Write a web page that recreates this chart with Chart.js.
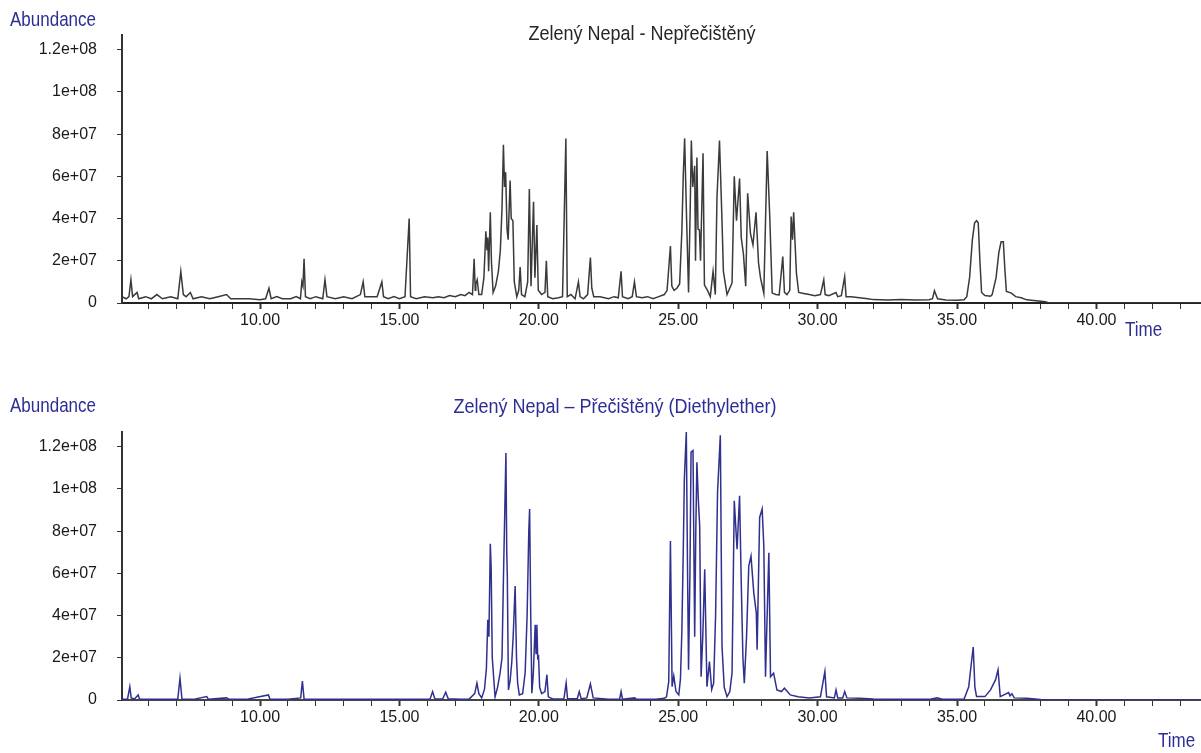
<!DOCTYPE html>
<html lang="cs">
<head>
  <meta charset="UTF-8" />
  <title>Zelený Nepal - chromatogramy</title>
  <script src="https://cdn.jsdelivr.net/npm/chart.js"></script>
  <style>
    body {
      margin: 0;
      background: #fff;
      font-family: 'Liberation Sans', Arial, sans-serif;
      width: 1201px;
      height: 753px;
      overflow: hidden;
      position: relative;
    }
    canvas { position: absolute; left: 0; }
    #topChart { top: 0; }
    #bottomChart { top: 376px; }
    .lbl {
      position: absolute;
      font-size: 17px;
      line-height: 20px;
      white-space: nowrap;
      color: #2d2d96;
      transform: scaleY(1.15);
    }
    .ttl {
      position: absolute;
      font-size: 18px;
      line-height: 20px;
      white-space: nowrap;
      transform: translateX(-50%) scaleY(1.15);
    }
  </style>
</head>
<body>
  <canvas id="topChart" width="1201" height="376"></canvas>
  <canvas id="bottomChart" width="1201" height="377"></canvas>

  <div class="lbl" style="left:10px; top:10px;">Abundance</div>
  <div class="ttl" style="left:642px; top:23px; color:#262626;">Zelený Nepal - Nepřečištěný</div>
  <div class="lbl" style="left:1125px; top:320px;">Time</div>

  <div class="lbl" style="left:10px; top:396px;">Abundance</div>
  <div class="ttl" style="left:615px; top:396px; color:#2d2d96;">Zelený Nepal – Přečištěný (Diethylether)</div>
  <div class="lbl" style="left:1158px; top:731px;">Time</div>

  <script>
    // retention time range (min) and abundance axis
    const timeMin = 5.05;
    const timeMax = 43.75;
    const abundMax = 1.27e8;
    const xMajorTicks = [10, 15, 20, 25, 30, 35, 40];
    const xTickLabels = ['10.00', '15.00', '20.00', '25.00', '30.00', '35.00', '40.00'];
    const yTickValues = [0, 2e7, 4e7, 6e7, 8e7, 1e8, 1.2e8];
    const yTickLabels = ['0', '2e+07', '4e+07', '6e+07', '8e+07', '1e+08', '1.2e+08'];

    // [time (min), abundance x 1e6] - neprecisteny
    const topTrace = [
      [5.05,3],[5.2,2],[5.3,3],[5.37,11],[5.43,3],[5.59,5],[5.65,2],[5.9,3],[6.1,2],[6.3,4],[6.5,2],[6.8,3],
      [7.05,2],[7.16,15],[7.25,4],[7.35,3],[7.5,5],[7.6,2],[7.9,3],[8.2,2],[8.5,3],[8.8,4],[8.95,2],[9.2,2],
      [9.6,2],[10.0,1.5],[10.2,2],[10.32,7],[10.4,2],[10.6,3],[10.8,2],[11.1,2],[11.3,3],[11.45,2],[11.5,10],
      [11.54,8],[11.58,21],[11.63,3],[11.8,2],[12.0,3],[12.25,2],[12.33,11],[12.4,3],[12.7,2],[13.0,3],[13.3,2],
      [13.6,4],[13.7,10],[13.76,3],[14.0,3],[14.2,3],[14.37,10],[14.43,3],[14.6,2],[14.8,3],[15.0,2],[15.2,3],
      [15.35,40],[15.4,3],[15.6,2],[15.9,3],[16.2,2.5],[16.4,3],[16.6,2.5],[16.8,3.5],[17.0,3],[17.2,4],[17.35,3.5],
      [17.5,5],[17.62,4],[17.68,21],[17.72,6],[17.74,9],[17.79,11],[17.85,4],[17.95,4],[18.03,12],[18.1,34],
      [18.14,25],[18.17,31],[18.2,15],[18.26,43],[18.3,20],[18.36,5],[18.45,8],[18.55,15],[18.62,25],[18.68,45],
      [18.73,75],[18.77,55],[18.81,62],[18.86,35],[18.9,30],[18.97,58],[19.01,40],[19.07,39],[19.12,10],[19.21,3],
      [19.28,6],[19.33,17],[19.38,4],[19.5,3],[19.6,10],[19.66,54],[19.72,8],[19.81,48],[19.86,12],[19.93,37],
      [19.98,6],[20.1,4],[20.22,5],[20.27,20],[20.32,3],[20.5,2],[20.7,2.5],[20.85,3],[20.97,78],[21.02,3],
      [21.15,4],[21.3,2],[21.42,10],[21.48,3],[21.6,2],[21.75,4],[21.85,21.5],[21.9,7],[21.97,3],[22.2,3],
      [22.5,2],[22.7,3],[22.85,2.5],[22.95,15],[23.0,3],[23.2,2],[23.35,3],[23.43,10],[23.5,3],[23.7,2.5],
      [23.9,3],[24.1,2],[24.3,3],[24.5,4],[24.6,6],[24.72,27],[24.77,8],[24.85,6],[24.95,7],[25.05,9],
      [25.13,34],[25.18,60],[25.23,78],[25.3,40],[25.37,5],[25.43,45],[25.47,77],[25.52,55],[25.59,65],
      [25.62,20],[25.67,69],[25.71,35],[25.76,34.6],[25.8,20],[25.89,71],[25.94,8.5],[26.05,6],[26.15,3],
      [26.25,15],[26.33,4],[26.39,50],[26.48,77],[26.57,39],[26.62,15],[26.75,4],[26.93,9.5],[27.01,60],
      [27.09,39],[27.2,59],[27.26,31],[27.34,23],[27.42,8],[27.49,52],[27.59,33],[27.68,27.5],[27.79,43],
      [27.88,19],[27.95,12],[28.07,4.6],[28.19,72],[28.28,42],[28.37,4.7],[28.5,4],[28.62,3.8],[28.75,22],
      [28.81,5],[28.9,4],[29.0,6],[29.05,41],[29.1,30],[29.14,43],[29.24,14],[29.32,5],[29.5,4.5],[29.7,4],
      [29.9,3.5],[30.1,4],[30.22,11],[30.27,4],[30.4,3.5],[30.66,5],[30.72,3],[30.85,3.5],[30.97,12.5],
      [31.02,3],[31.2,3],[31.5,2.5],[31.8,2],[32.0,1.6],[32.5,1.4],[33.0,1.6],[33.5,1.4],[34.0,1.5],[34.12,2],
      [34.19,5.8],[34.3,2],[34.6,1.4],[35.0,1.3],[35.25,1.5],[35.35,3],[35.45,12],[35.55,30],[35.63,38],
      [35.7,39],[35.76,38],[35.82,20],[35.88,5],[36.0,3.5],[36.2,3.2],[36.26,4],[36.4,12],[36.5,24],[36.58,29],
      [36.66,29],[36.72,15],[36.77,5.5],[36.95,4.7],[37.1,3],[37.3,2.5],[37.5,1.5],[38.17,0.6],[38.3,0],[43.75,0]
    ];

    // [time (min), abundance x 1e6] - precisteny (diethylether)
    const bottomTrace = [
      [5.05,0.3],[5.25,0.5],[5.33,6.3],[5.38,1],[5.5,0.5],[5.63,2.4],[5.68,0.4],[6.0,0.3],[6.5,0.3],[7.05,0.4],
      [7.13,10.3],[7.2,0.5],[7.6,0.3],[8.09,1.6],[8.15,0.3],[8.8,1],[8.9,0.3],[9.5,0.3],[10.3,2.4],[10.36,0.3],
      [11.0,0.3],[11.46,1],[11.52,9],[11.58,0.5],[12.5,0.3],[13.5,0.3],[14.5,0.3],[15.5,0.3],[16.1,0.5],
      [16.19,4],[16.27,0.6],[16.55,0.5],[16.66,3.7],[16.75,0.6],[17.2,0.3],[17.5,0.5],[17.7,3],[17.78,8],
      [17.85,3],[17.95,1],[18.05,5],[18.12,15],[18.17,38],[18.21,30],[18.26,74],[18.29,63],[18.33,20],
      [18.43,1.5],[18.52,6],[18.61,12.7],[18.68,20],[18.73,57],[18.78,90],[18.82,117],[18.85,70],[18.87,58.7],
      [18.91,4.8],[18.97,9],[19.03,18],[19.08,30],[19.15,54],[19.2,20],[19.24,8],[19.3,2.4],[19.42,3],
      [19.51,13],[19.58,40],[19.64,80],[19.67,90.5],[19.71,40],[19.75,3.2],[19.8,12],[19.87,35.7],[19.9,22],
      [19.93,35.7],[19.96,20],[19.99,20.6],[20.03,6],[20.1,3],[20.22,4],[20.29,12],[20.34,1.5],[20.5,0.5],
      [20.9,0.6],[20.98,8],[21.03,0.6],[21.38,0.6],[21.45,4],[21.52,0.6],[21.72,1],[21.85,7.6],[21.95,1],
      [22.5,0.3],[22.9,0.5],[22.95,4],[23.0,0.4],[23.44,1],[23.5,0.3],[24.2,0.3],[24.5,0.8],[24.58,1.5],
      [24.66,8.7],[24.72,75.4],[24.78,6.3],[24.84,11.4],[24.92,4],[25.02,2.4],[25.08,10],[25.13,32.5],
      [25.18,70],[25.22,105],[25.29,127],[25.33,66.7],[25.37,14.3],[25.42,60],[25.46,117.5],[25.53,118.2],
      [25.59,30],[25.63,80],[25.67,112.7],[25.72,95],[25.77,82.5],[25.82,11],[25.88,30],[25.95,61.9],
      [26.03,6.3],[26.12,18.2],[26.2,5],[26.27,8],[26.34,40],[26.41,98.4],[26.51,125.4],[26.57,25.4],
      [26.65,6],[26.75,1.6],[26.85,4],[26.93,12.7],[27.01,94.4],[27.11,71.4],[27.2,96.8],[27.26,55.6],
      [27.32,20],[27.37,8],[27.45,30],[27.53,63.5],[27.61,68.2],[27.71,50.8],[27.8,41.3],[27.83,23.8],
      [27.92,86.5],[28.01,90.5],[28.07,73],[28.13,11],[28.25,69.8],[28.31,11],[28.42,12.7],[28.54,4.8],
      [28.7,4],[28.81,5.6],[29.02,2.4],[29.3,1.5],[29.7,1],[30.1,1.5],[30.26,13.5],[30.32,1.5],[30.6,1],
      [30.66,4.8],[30.72,1],[30.9,1],[30.97,4],[31.05,1],[31.5,0.8],[32.0,0.5],[33.0,0.4],[34.0,0.3],
      [34.29,1],[34.5,0.3],[35.25,0.3],[35.42,6.3],[35.5,16],[35.58,25.1],[35.64,6],[35.7,1.6],[36.0,1.6],
      [36.2,4.8],[36.38,9.5],[36.47,14.3],[36.55,1.6],[36.85,3.5],[36.9,2],[36.97,3],[37.05,1],[37.5,0.8],
      [38.0,0.2],[38.3,0],[43.75,0]
    ];

    const tickFont = { family: "'Liberation Sans', Arial, sans-serif", size: 16 };

    function makeChart(canvasId, trace, lineColor, topPad, xHeight, axisColor) {
      return new Chart(document.getElementById(canvasId), {
        type: 'line',
        data: {
          datasets: [{
            data: trace.map(p => ({ x: p[0], y: p[1] * 1e6 })),
            borderColor: lineColor,
            borderWidth: 1.5,
            pointRadius: 0,
            tension: 0,
            fill: false
          }]
        },
        options: {
          responsive: false,
          animation: false,
          events: [],
          layout: { padding: { top: topPad, left: 0, right: 0, bottom: 0 } },
          plugins: { legend: { display: false }, title: { display: false }, tooltip: { enabled: false } },
          scales: {
            x: {
              type: 'linear',
              min: timeMin,
              max: timeMax,
              afterBuildTicks: scale => {
                const ticks = [];
                for (let t = 6; t <= 43; t++) ticks.push({ value: t });
                scale.ticks = ticks;
              },
              afterFit: scale => { scale.height = xHeight; },
              ticks: {
                autoSkip: false,
                maxRotation: 0,
                padding: 2,
                color: '#1a1a1a',
                font: tickFont,
                callback: v => {
                  const i = xMajorTicks.indexOf(v);
                  return i >= 0 ? xTickLabels[i] : '';
                }
              },
              grid: {
                drawOnChartArea: false,
                tickLength: 6,
                tickColor: '#333',
                tickWidth: ctx => (ctx.tick && ctx.tick.value % 5 === 0) ? 2 : 1
              },
              border: { display: true, color: axisColor, width: 2 }
            },
            y: {
              min: 0,
              max: abundMax,
              afterBuildTicks: scale => { scale.ticks = yTickValues.map(v => ({ value: v })); },
              afterFit: scale => { scale.width = 122; },
              ticks: {
                padding: 20,
                color: '#1a1a1a',
                font: tickFont,
                callback: v => yTickLabels[yTickValues.indexOf(v)]
              },
              grid: { drawOnChartArea: false, tickLength: 5, tickColor: '#333' },
              border: { display: true, color: '#333', width: 2 }
            }
          }
        }
      });
    }

    makeChart('topChart', topTrace, '#3a3a3a', 35, 73, '#222');
    makeChart('bottomChart', bottomTrace, '#30308f', 56, 53, '#444');
  </script>
</body>
</html>
